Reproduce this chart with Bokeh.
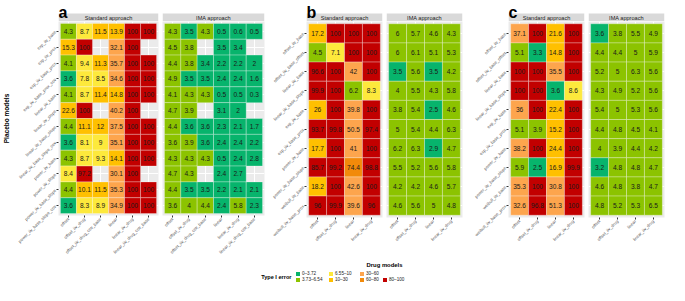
import math
from bokeh.plotting import figure
from bokeh.models import (FactorRange, Range1d, Label, Legend, LegendItem,
                          ColumnDataSource, BoxAnnotation)
from bokeh.layouts import row, column
from bokeh.core.properties import value
from bokeh.embed import file_html
from bokeh.resources import INLINE

FONT = "Liberation Sans"

# ---------------- data ----------------
bin_edges = [3.72, 6.54, 10, 30, 60, 80, 100]
bin_labels = ["0–3.72", "3.73–6.54", "6.55–10", "10–30", "30–60", "60–80", "80–100"]
bin_colors = ["#07B46C", "#8CC300", "#FDE93C", "#FFC000", "#FDA54D", "#F28A0A", "#C20000"]

a_placebo = ["exp_iiv_base", "exp_iiv_prox", "exp_iiv_base_prox", "exp_iiv_base_prox_cov",
             "linear_iiv_base", "linear_iiv_slope", "linear_iiv_base_slope",
             "linear_iiv_base_slope_cov", "power_iiv_base", "power_iiv_slope",
             "power_iiv_base_slope", "power_iiv_base_slope_cov"]
a_drug = ["offset", "offset_iiv_drug", "offset_iiv_drug_cov_base", "linear",
          "linear_iiv_drug", "linear_iiv_drug_cov_base"]
a_standard = [
    [4.3, 8.7, 11.5, 13.9, 100, 100],
    [15.3, 100, None, 32.1, 100, None],
    [4.1, 9.4, 11.3, 35.7, 100, 100],
    [3.6, 7.8, 8.5, 34.6, 100, 100],
    [4.1, 8.7, 11.4, 14.8, 100, 100],
    [22.6, 100, None, 40.2, 100, None],
    [4.4, 11.1, 12, 37.5, 100, 100],
    [3.6, 8.1, 9, 35.1, 100, 100],
    [4.3, 8.7, 9.3, 14.1, 100, 100],
    [8.4, 97.2, None, 30.1, 100, None],
    [4.4, 10.1, 11.5, 35.3, 100, 100],
    [3.6, 8.3, 8.9, 34.9, 100, 100],
]
a_ima = [
    [4.3, 3.5, 4.3, 0.5, 0.6, 0.5],
    [4.5, 3.8, None, 3.5, 3.4, None],
    [4.4, 3.8, 3.4, 2.2, 2.2, 2],
    [4.9, 3.5, 3.5, 2.4, 2.4, 1.6],
    [4.1, 4.3, 4.3, 0.5, 0.5, 0.3],
    [4.7, 3.9, None, 3.1, 2, None],
    [4.4, 3.6, 3.6, 2.3, 2.1, 1.7],
    [3.6, 3.9, 3.6, 2.4, 2.4, 2.2],
    [4.3, 4.3, 4.3, 0.5, 2.4, 2.8],
    [4.7, 4.3, None, 2.4, 2.7, None],
    [4.4, 3.5, 3.5, 2.2, 2.1, 2.1],
    [3.6, 4, 4.4, 2.4, 5.8, 2.3],
]
# cells whose error class differs from the plain threshold of the shown value
a_ima_class = {(7, 0): 1, (11, 0): 1}

bc_placebo = ["offset_iiv_base", "offset_iiv_base_offset", "linear_iiv_base",
              "linear_iiv_base_slope", "exp_iiv_base", "exp_iiv_base_prox",
              "power_iiv_base", "power_iiv_base_slope", "weibull_iiv_base",
              "weibull_iiv_base_prox"]
bc_drug = ["offset", "offset_iiv_drug", "linear", "linear_iiv_drug"]

b_standard = [
    [17.2, 100, 100, 100],
    [4.5, 7.1, 100, 100],
    [96.6, 100, 42, 100],
    [99.9, 100, 6.2, 8.3],
    [26, 100, 39.8, 100],
    [93.7, 99.8, 50.5, 97.4],
    [17.7, 100, 41, 100],
    [85.7, 99.2, 74.4, 98.8],
    [18.2, 100, 42.6, 100],
    [96, 99.9, 39.6, 96],
]
b_ima = [
    [6, 5.7, 4.6, 4.3],
    [6, 6.1, 5.1, 5.3],
    [3.5, 5.6, 3.5, 4.2],
    [4, 5.5, 4.3, 5.8],
    [3.8, 5.4, 2.5, 4.6],
    [5, 5.4, 4.4, 6.3],
    [6.2, 6.3, 2.9, 4.7],
    [5.5, 5.2, 5.6, 5.8],
    [4.2, 4.2, 4.6, 5.7],
    [4.6, 5.6, 5, 4.8],
]
c_standard = [
    [37.1, 100, 21.6, 100],
    [5.1, 3.3, 14.8, 100],
    [100, 100, 35.5, 100],
    [100, 100, 3.6, 8.6],
    [36, 100, 22.4, 100],
    [5.1, 3.9, 15.2, 100],
    [38.2, 100, 24.4, 100],
    [5.9, 2.5, 16.9, 99.9],
    [35.3, 100, 30.8, 100],
    [32.6, 96.8, 51.3, 100],
]
c_ima = [
    [3.6, 3.8, 5.5, 4.9],
    [4.4, 4.4, 5, 5.9],
    [5.2, 5, 6.3, 5.6],
    [4.3, 4.9, 5.2, 5.6],
    [5.4, 5, 5.3, 5.6],
    [4.4, 4.8, 4.5, 4.1],
    [4, 3.9, 4.4, 4.2],
    [3.2, 4.8, 4.8, 4.7],
    [4.6, 4.8, 3.8, 4.7],
    [4.8, 5.2, 5.3, 6.5],
]

# ---------------- layout constants ----------------
FRAME_H = 196
STRIP_FIG_H = 21      # letter area + strip
STRIP_H = 8
BOTTOM = 42
LH = 26
TOTAL_W = 669


def bin_of(v):
    for k, e in enumerate(bin_edges):
        if v <= e:
            return k
    return len(bin_edges) - 1


def heat(placebo, drug, vals, cell_w, left, right, show_y, classes=None):
    xs, ys, fills, txt = [], [], [], []
    for i, pl in enumerate(placebo):
        for j, dr in enumerate(drug):
            v = vals[i][j]
            if v is None:
                continue
            k = bin_of(v)
            if classes and (i, j) in classes:
                k = classes[(i, j)]
            xs.append(dr)
            ys.append(pl)
            fills.append(bin_colors[k])
            txt.append(f"{v:g}")
    src = ColumnDataSource(dict(x=xs, y=ys, fill=fills, txt=txt))
    frame_w = cell_w * len(drug)
    p = figure(width=left + frame_w + right, height=FRAME_H + BOTTOM,
               x_range=FactorRange(factors=drug, range_padding=0.12,
                                   range_padding_units="absolute"),
               y_range=FactorRange(factors=placebo[::-1], range_padding=0.12,
                                   range_padding_units="absolute"),
               min_border_left=left, min_border_right=right,
               min_border_top=0, min_border_bottom=BOTTOM,
               toolbar_location=None, output_backend="svg")
    p.background_fill_color = "#EBEBEB"
    p.border_fill_color = "white"
    p.outline_line_color = None
    p.xgrid.grid_line_color = "white"
    p.ygrid.grid_line_color = "white"
    p.xgrid.grid_line_width = 1
    p.ygrid.grid_line_width = 1
    p.rect(x="x", y="y", width=1, height=1, fill_color="fill", line_color="white",
           line_width=0.6, line_alpha=0.5, source=src)
    p.text(x="x", y="y", text="txt", text_align="center", text_baseline="middle",
           text_font_size="6.6px", text_color="#1A1A1A", text_font=value(FONT),
           source=src)
    for ax in (p.xaxis, p.yaxis):
        ax.major_label_orientation = math.pi / 4
        ax.major_label_text_font_size = "4.3px"
        ax.major_label_text_font = FONT
        ax.major_label_text_color = "#4D4D4D"
        ax.axis_line_color = None
        ax.major_tick_line_color = "#333333"
        ax.major_tick_out = 2
        ax.major_tick_in = 0
        ax.minor_tick_line_color = None
        ax.major_label_standoff = 1
    p.yaxis.visible = show_y
    return p


def strip(text, cell_w, n, left, right, letter=None):
    frame_w = cell_w * n
    s = figure(width=left + frame_w + right, height=STRIP_FIG_H,
               x_range=Range1d(0, 1), y_range=Range1d(0, STRIP_FIG_H),
               min_border_left=left, min_border_right=right,
               min_border_top=0, min_border_bottom=0,
               x_axis_type=None, y_axis_type=None,
               toolbar_location=None, output_backend="svg")
    s.background_fill_color = "white"
    s.border_fill_color = "white"
    s.outline_line_color = None
    s.add_layout(BoxAnnotation(bottom=0, top=STRIP_H, fill_color="#D9D9D9",
                               fill_alpha=1, line_alpha=0))
    s.add_layout(Label(x=0.5, y=STRIP_H / 2, text=text, text_align="center",
                       text_baseline="middle", text_font_size="5.6px",
                       text_font=FONT, text_color="#1A1A1A"))
    if letter:
        s.add_layout(Label(x=0, y=STRIP_H + 0.8, text=letter, text_align="left",
                           text_baseline="alphabetic", text_font_size="16px",
                           text_font_style="bold", text_font=FONT, text_color="black"))
    return s


# panel a
CA = 17
LA = 56
a_std = heat(a_placebo, a_drug, a_standard, CA, LA, 2, True)
a_std.yaxis.axis_label = "Placebo models"
a_std.yaxis.axis_label_text_font_size = "6.5px"
a_std.yaxis.axis_label_text_font_style = "bold"
a_std.yaxis.axis_label_text_font = FONT
a_std.yaxis.axis_label_text_color = "black"
a_std.yaxis.axis_label_standoff = 2
a_im = heat(a_placebo, a_drug, a_ima, CA, 2, 2, False, a_ima_class)
col_a1 = column(strip("Standard approach", CA, 6, LA, 2, "a"), a_std)
col_a2 = column(strip("IMA approach", CA, 6, 2, 2), a_im)

# panel b
CB = 19
b_std = heat(bc_placebo, bc_drug, b_standard, CB, 40, 2, True)
b_im = heat(bc_placebo, bc_drug, b_ima, CB, 2, 2, False)
col_b1 = column(strip("Standard approach", CB, 4, 40, 2, "b"), b_std)
col_b2 = column(strip("IMA approach", CB, 4, 2, 2), b_im)

# panel c
c_std = heat(bc_placebo, bc_drug, c_standard, CB, 44, 2, True)
c_im = heat(bc_placebo, bc_drug, c_ima, CB, 2, 5, False)
col_c1 = column(strip("Standard approach", CB, 4, 44, 2, "c"), c_std)
col_c2 = column(strip("IMA approach", CB, 4, 2, 5), c_im)

top = row(col_a1, col_a2, col_b1, col_b2, col_c1, col_c2)

# legend / x title strip
lf = figure(width=TOTAL_W, height=LH, x_range=Range1d(0, TOTAL_W), y_range=Range1d(0, LH),
            x_axis_type=None, y_axis_type=None, min_border=0,
            toolbar_location=None, output_backend="svg")
lf.outline_line_color = None
lf.add_layout(Label(x=384, y=LH - 5, text="Drug models", text_align="center",
                    text_baseline="middle", text_font_size="5.9px",
                    text_font_style="bold", text_font=FONT, text_color="black"))
lf.add_layout(Label(x=291, y=8.5, text="Type I error", text_align="right",
                    text_baseline="middle", text_font_size="5.6px",
                    text_font_style="bold", text_font=FONT, text_color="black"))
# zero-size swatch renderers (only their legend swatches are visible)
rends = [lf.rect(x=[0], y=[0], width=0, height=0, fill_color=c, line_color=None)
         for c in bin_colors]
groups = [[0, 1], [2, 3], [4, 5], [6]]
gx = [295, 328, 359, 382]
for grp, x0 in zip(groups, gx):
    leg = Legend(items=[LegendItem(label=bin_labels[k], renderers=[rends[k]]) for k in grp],
                 location=(x0, 3), orientation="vertical",
                 glyph_width=5, glyph_height=5, label_height=5, label_width=8,
                 label_standoff=2, spacing=1, padding=0, margin=0,
                 border_line_color=None, background_fill_alpha=0,
                 label_text_font_size="4.6px", label_text_font=FONT,
                 label_text_color="#1A1A1A", label_text_baseline="middle")
    lf.add_layout(leg)

layout = column(top, lf)
open("out.html", "w").write(file_html(layout, INLINE))
